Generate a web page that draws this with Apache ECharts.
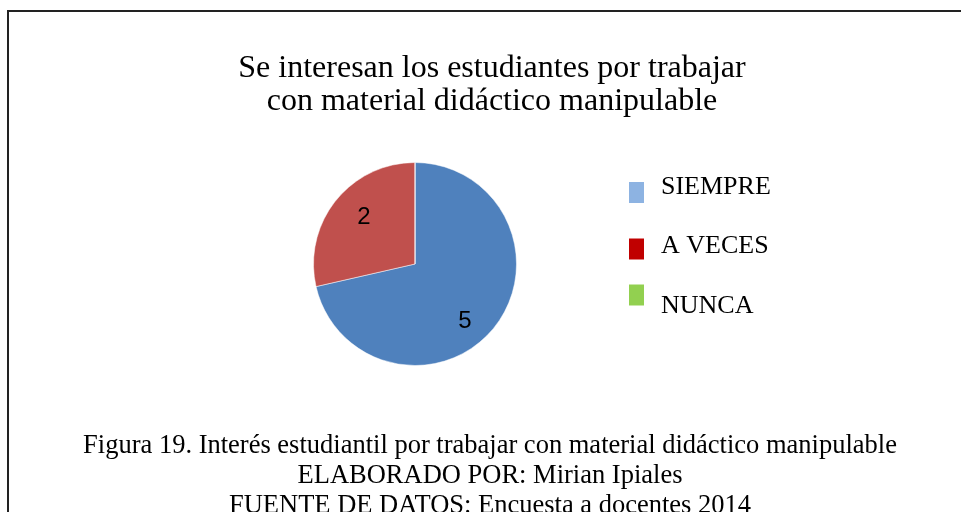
<!DOCTYPE html>
<html>
<head>
<meta charset="utf-8">
<script src="https://cdn.jsdelivr.net/npm/echarts@6/dist/echarts.min.js"></script>
<style>
html,body{margin:0;padding:0;background:#fff;}
#chart{width:961px;height:512px;}
</style>
</head>
<body>
<div id="chart"></div>
<script>
// datos de la encuesta
var categorias = ['SIEMPRE', 'A VECES', 'NUNCA'];
var valores = [5, 2, 0];
var coloresPie = ['#4F81BD', '#C0504D', '#9BBB59'];
var coloresLeyenda = ['#8DB3E2', '#C00000', '#92D050'];
var titulo = 'Se interesan los estudiantes por trabajar\ncon material didáctico manipulable';
var pie = 'Figura 19. Interés estudiantil por trabajar con material didáctico manipulable\nELABORADO POR: Mirian Ipiales\nFUENTE DE DATOS: Encuesta a docentes 2014';

var serif = '"Liberation Serif", "Times New Roman", serif';

// posicion de cada leyenda y ajuste vertical del texto
var legTop = [174.5, 233.5, 284.5];
var legPad = [[0, 0, 10, 12], [0, 0, 5, 12], [23, 0, 0, 12]];
var labelOffset = [[8, 24], [-9, -13], [0, 0]];

var leyendas = categorias.map(function (c, i) {
	return {
		left: 629,
		top: legTop[i],
		padding: 0,
		itemWidth: 15,
		itemHeight: 21,
		icon: 'rect',
		selectedMode: false,
		itemStyle: { borderWidth: 0 },
		data: [{ name: c, itemStyle: { color: coloresLeyenda[i], borderWidth: 0 } }],
		formatter: '{t|{name}}',
		textStyle: {
			rich: {
				t: { fontFamily: serif, fontSize: 26, color: '#000', padding: legPad[i] }
			}
		}
	};
});

var datos = categorias.map(function (c, i) {
	return {
		name: c,
		value: valores[i],
		itemStyle: { color: coloresPie[i] },
		label: { offset: labelOffset[i] }
	};
});

var chart = echarts.init(document.getElementById('chart'));
chart.setOption({
	backgroundColor: '#fff',
	animation: false,
	title: [{
		text: titulo,
		left: 492,
		top: 52,
		padding: 0,
		textAlign: 'center',
		textStyle: { fontFamily: serif, fontSize: 32, fontWeight: 'normal', color: '#000', lineHeight: 33 }
	}, {
		text: pie,
		left: 490,
		top: 431,
		padding: 0,
		textAlign: 'center',
		textStyle: { fontFamily: serif, fontSize: 26.5, fontWeight: 'normal', color: '#000', lineHeight: 30 }
	}],
	legend: leyendas,
	graphic: [{
		type: 'rect',
		shape: { x: 8, y: 11, width: 1200, height: 800 },
		style: { fill: 'none', stroke: '#222', lineWidth: 2 },
		silent: true,
		z: 100
	}],
	series: [{
		type: 'pie',
		center: [415, 264],
		radius: 101.5,
		startAngle: 90,
		clockwise: true,
		avoidLabelOverlap: false,
		label: {
			show: true,
			position: 'inside',
			fontFamily: '"Liberation Sans", Arial, sans-serif',
			fontSize: 24,
			color: '#000',
			formatter: function (p) { return p.value ? String(p.value) : ''; }
		},
		labelLine: { show: false },
		itemStyle: { borderColor: '#fff', borderWidth: 0.5 },
		emphasis: { disabled: true },
		data: datos
	}]
});
</script>
</body>
</html>
